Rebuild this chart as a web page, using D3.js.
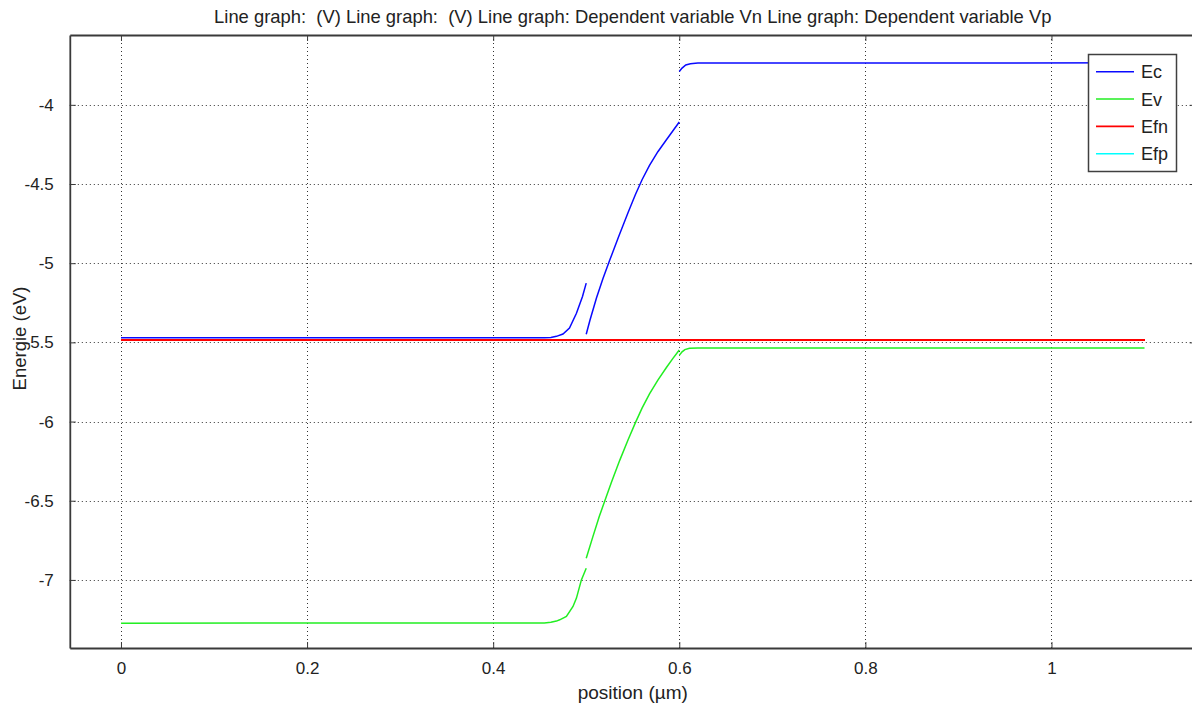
<!DOCTYPE html>
<html>
<head>
<meta charset="utf-8">
<script src="https://cdn.jsdelivr.net/npm/d3@7"></script>
<style>
  html, body { margin: 0; padding: 0; background: #fff; }
  svg { display: block; font-family: "Liberation Sans", Arial, sans-serif; }
</style>
</head>
<body>
<svg id="chart" width="1192" height="706"></svg>
<script>
// Band diagram of a heterostructure: three layers (0-0.5, 0.5-0.6, 0.6-1.1 µm)
const xTicks = [0, 0.2, 0.4, 0.6, 0.8, 1];
const yTicks = [-4, -4.5, -5, -5.5, -6, -6.5, -7];
const xTickLabels = ["0", "0.2", "0.4", "0.6", "0.8", "1"];
const yTickLabels = ["-4", "-4.5", "-5", "-5.5", "-6", "-6.5", "-7"];

// Conduction band edge Ec (eV), one array per layer
const ecLayer1 = [[0, -5.471], [0.455, -5.471], [0.462, -5.469], [0.468, -5.462], [0.475, -5.447],
  [0.482, -5.41], [0.4895, -5.316], [0.496, -5.21], [0.5, -5.126]];
const ecLayer2 = [[0.5, -5.449], [0.504, -5.36], [0.511, -5.22], [0.518, -5.097], [0.525, -4.985],
  [0.535, -4.83], [0.545, -4.68], [0.553, -4.565], [0.56, -4.473], [0.568, -4.382], [0.577, -4.296],
  [0.586, -4.222], [0.593, -4.165], [0.6, -4.108]];
const ecLayer3 = [[0.6, -3.79], [0.603, -3.768], [0.607, -3.748], [0.612, -3.74], [0.62, -3.736], [1.1, -3.735]];

// Valence band edge Ev (eV)
const evLayer1 = [[0, -7.273], [0.455, -7.272], [0.462, -7.268], [0.468, -7.26], [0.4715, -7.252],
  [0.4787, -7.231], [0.4858, -7.168], [0.4895, -7.115], [0.4948, -7.0], [0.5, -6.926]];
const evLayer2 = [[0.5, -6.863], [0.507, -6.73], [0.514, -6.6], [0.52, -6.5], [0.527, -6.385],
  [0.536, -6.245], [0.545, -6.115], [0.553, -6.005], [0.56, -5.915], [0.568, -5.825], [0.577, -5.738],
  [0.586, -5.66], [0.593, -5.603], [0.6, -5.548]];
const evLayer3 = [[0.6, -5.582], [0.603, -5.56], [0.606, -5.546], [0.611, -5.537], [0.62, -5.535], [1.1, -5.535]];

// Quasi-Fermi levels (equilibrium: both flat and equal, Efn drawn over Efp)
const efn = [[0, -5.483], [1.1, -5.483]];
const efp = [[0, -5.483], [1.1, -5.483]];

const seriesNames = ["Ec", "Ev", "Efn", "Efp"];
const seriesColors = ["#0a0aff", "#22ee22", "#ff0000", "#00ffff"];

const svg = d3.select("#chart");
const plot = { left: 69.8, right: 1195.7, top: 35, bottom: 648 };

const x = d3.scaleLinear().domain([-0.055, 1.155]).range([plot.left, plot.right]);
const y = d3.scaleLinear().domain([-7.43, -3.559]).range([plot.bottom, plot.top]);

const axisColor = "#3a3a3a";
const textColor = "#222";

svg.append("defs").append("clipPath").attr("id", "plotClip")
  .append("rect").attr("x", plot.left).attr("y", plot.top)
  .attr("width", plot.right - plot.left).attr("height", plot.bottom - plot.top);

// dotted grid
const grid = svg.append("g").attr("stroke", "#333").attr("stroke-width", 1)
  .attr("stroke-dasharray", "1,3");
grid.selectAll(".gx").data(xTicks).join("line").attr("class", "gx")
  .attr("x1", d => Math.round(x(d)) + 0.5).attr("x2", d => Math.round(x(d)) + 0.5)
  .attr("y1", plot.top).attr("y2", plot.bottom);
grid.selectAll(".gy").data(yTicks).join("line").attr("class", "gy")
  .attr("y1", d => Math.round(y(d)) + 0.5).attr("y2", d => Math.round(y(d)) + 0.5)
  .attr("x1", plot.left).attr("x2", plot.right);

// curves
const line = d3.line().x(d => x(d[0])).y(d => y(d[1]));
const curves = svg.append("g").attr("clip-path", "url(#plotClip)").attr("fill", "none")
  .attr("stroke-width", 1.5);
const drawOrder = [
  { data: ecLayer1, color: seriesColors[0] },
  { data: ecLayer2, color: seriesColors[0] },
  { data: ecLayer3, color: seriesColors[0] },
  { data: evLayer1, color: seriesColors[1] },
  { data: evLayer2, color: seriesColors[1] },
  { data: evLayer3, color: seriesColors[1] },
  { data: efp, color: seriesColors[3], crisp: true },
  { data: efn, color: seriesColors[2], crisp: true }
];
curves.selectAll("path").data(drawOrder).join("path")
  .attr("d", d => line(d.data)).attr("stroke", d => d.color)
  .attr("shape-rendering", d => d.crisp ? "crispEdges" : null)
  .attr("stroke-width", d => d.crisp ? 2 : null);

// axes with inward ticks on all four sides
const tickLen = 6;
const fontTick = 17;
const bottomAxis = d3.axisBottom(x).tickValues(xTicks).tickFormat((d, i) => xTickLabels[i])
  .tickSizeInner(-tickLen).tickSizeOuter(0).tickPadding(tickLen + 8);
const gB = svg.append("g").attr("transform", `translate(0,${plot.bottom})`).call(bottomAxis);
const topAxis = d3.axisTop(x).tickValues(xTicks).tickFormat("").tickSizeInner(-tickLen).tickSizeOuter(0);
const gT = svg.append("g").attr("transform", `translate(0,${plot.top})`).call(topAxis);
const leftAxis = d3.axisLeft(y).tickValues(yTicks).tickFormat((d, i) => yTickLabels[i])
  .tickSizeInner(-tickLen).tickSizeOuter(0).tickPadding(tickLen + 10);
const gL = svg.append("g").attr("transform", `translate(${plot.left},0)`).call(leftAxis);
const rightAxis = d3.axisRight(y).tickValues(yTicks).tickFormat("").tickSizeInner(-tickLen).tickSizeOuter(0);
const gR = svg.append("g").attr("transform", `translate(${plot.right},0)`).call(rightAxis);

[gB, gT, gL, gR].forEach(g => {
  g.select(".domain").attr("stroke", axisColor).attr("stroke-width", 1.8);
  g.selectAll(".tick line").attr("stroke", axisColor).attr("stroke-width", 1);
  g.selectAll(".tick text").attr("fill", textColor)
    .style("font-size", fontTick + "px").style("font-family", "Liberation Sans, Arial, sans-serif");
});
gB.selectAll(".tick text").attr("dy", "0.71em");

// titles
svg.append("text").attr("x", (plot.left + plot.right) / 2).attr("y", 23)
  .attr("text-anchor", "middle").attr("fill", textColor).style("font-size", "18.4px")
  .style("white-space", "pre")
  .text("Line graph:  (V) Line graph:  (V) Line graph: Dependent variable Vn Line graph: Dependent variable Vp");

svg.append("text").attr("x", (plot.left + plot.right) / 2).attr("y", 699)
  .attr("text-anchor", "middle").attr("fill", textColor).style("font-size", "19px")
  .text("position (µm)");

svg.append("text").attr("transform", `translate(26,${(plot.top + plot.bottom) / 2 - 3}) rotate(-90)`)
  .attr("text-anchor", "middle").attr("fill", textColor).style("font-size", "18.5px")
  .text("Energie (eV)");

// legend
const legend = svg.append("g");
legend.append("rect").attr("x", 1088.5).attr("y", 54.5).attr("width", 88).attr("height", 117)
  .attr("fill", "#fff").attr("stroke", "#404040").attr("stroke-width", 1.5);
const rowY = d3.scalePoint().domain(seriesNames).range([71.7, 153.7]);
const rows = legend.selectAll(".row").data(seriesNames).join("g")
  .attr("transform", d => `translate(0,${rowY(d)})`);
rows.append("line").attr("x1", 1096).attr("x2", 1134).attr("y1", 0).attr("y2", 0)
  .attr("stroke", (d, i) => seriesColors[i]).attr("stroke-width", 1.6);
rows.append("text").attr("x", 1141).attr("dy", "0.36em").attr("fill", textColor)
  .style("font-size", "18px").text(d => d);
</script>
</body>
</html>
